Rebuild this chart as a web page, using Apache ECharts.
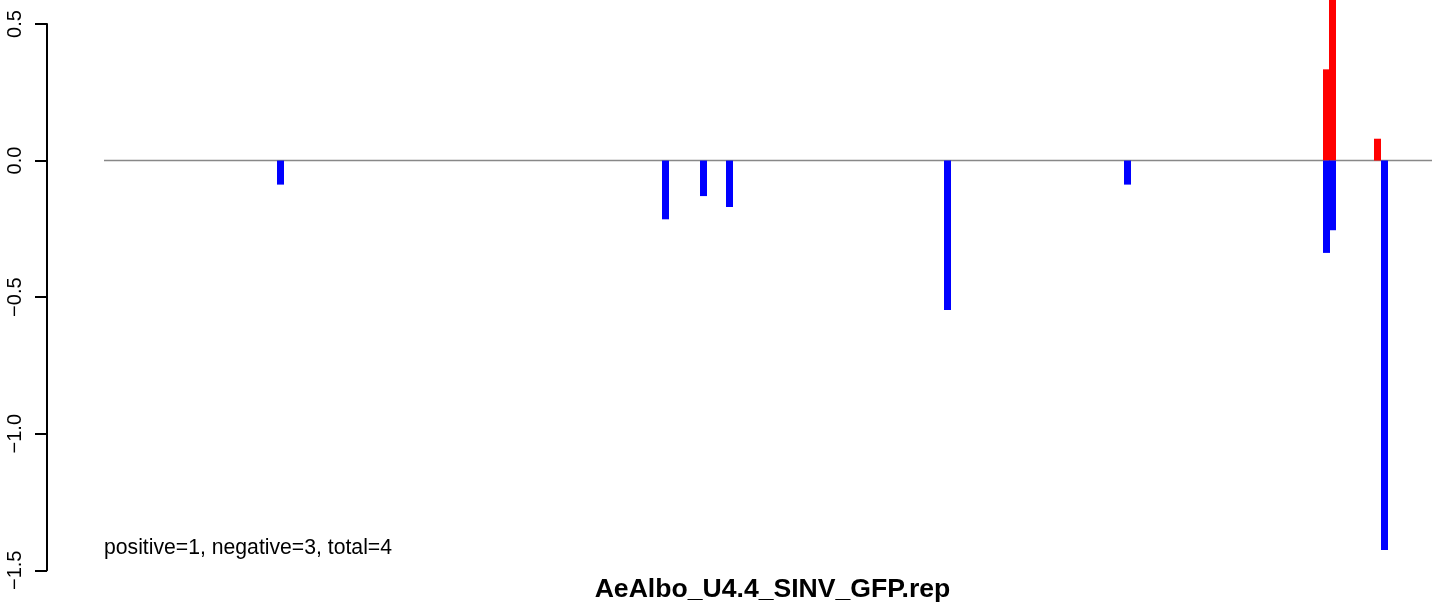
<!DOCTYPE html>
<html>
<head>
<meta charset="utf-8">
<script src="https://cdn.jsdelivr.net/npm/echarts@6/dist/echarts.min.js"></script>
<style>
html,body{margin:0;padding:0;background:#fff;}
#chart{width:1444px;height:602px;}
</style>
</head>
<body>
<div id="chart"></div>
<script>
// positions along the sequence (arbitrary units) and log-ratio values
var positivePos = [1222.5, 1228.5, 1273.5];
var positiveVal = [0.334, 0.65, 0.08];
var negativePos = [176.5, 561.5, 599.5, 625.5, 843.5, 1023.5, 1222.5, 1228.5, 1280.5];
var negativeVal = [-0.088, -0.215, -0.130, -0.170, -0.547, -0.088, -0.338, -0.255, -1.426];
var baselineRange = [0, 1328];
var yTicks = [-1.5, -1.0, -0.5, 0.0, 0.5];
var titleText = 'AeAlbo_U4.4_SINV_GFP.rep';
var noteText = 'positive=1, negative=3, total=4';

function zip(a, b) { return a.map(function (v, i) { return [v, b[i]]; }); }

var chart = echarts.init(document.getElementById('chart'), null, {renderer: 'canvas'});
var font = '"Liberation Sans", Arial, Helvetica, sans-serif';
chart.setOption({
  animation: false,
  backgroundColor: '#ffffff',
  grid: {left: 47, right: 0, top: 24, bottom: 31.7, containLabel: false},
  title: {
    text: titleText, left: 767.5, top: 571, textAlign: 'center',
    textStyle: {fontFamily: font, fontWeight: 'bold', fontSize: 26.6, color: '#000'}
  },
  graphic: [{
    type: 'text', left: 104, top: 538,
    style: {text: noteText, font: '21.2px ' + font, fill: '#000'}
  }],
  xAxis: {type: 'value', min: -57, max: 1340, show: false},
  yAxis: {
    type: 'value', min: yTicks[0], max: yTicks[yTicks.length - 1], interval: 0.5,
    axisLine: {show: true, onZero: false, lineStyle: {color: '#000', width: 2}},
    axisTick: {show: true, length: 12, lineStyle: {color: '#000', width: 2}},
    splitLine: {show: false},
    axisLabel: {
      rotate: 90, margin: 22, fontFamily: font, fontSize: 20, color: '#000',
      formatter: function (v) { return v.toFixed(1).replace('-', '\u2212'); }
    }
  },
  series: [
    {
      type: 'line', data: [[baselineRange[0], 0], [baselineRange[1], 0]],
      symbol: 'none', lineStyle: {color: '#888888', width: 1.5}, z: 1, silent: true
    },
    {
      type: 'bar', data: zip(positivePos, positiveVal), barWidth: 7, barGap: '-100%',
      itemStyle: {color: '#ff0000'}, clip: false, z: 2
    },
    {
      type: 'bar', data: zip(negativePos, negativeVal), barWidth: 7, barGap: '-100%',
      itemStyle: {color: '#0000ff'}, clip: false, z: 2
    }
  ]
});
</script>
</body>
</html>
